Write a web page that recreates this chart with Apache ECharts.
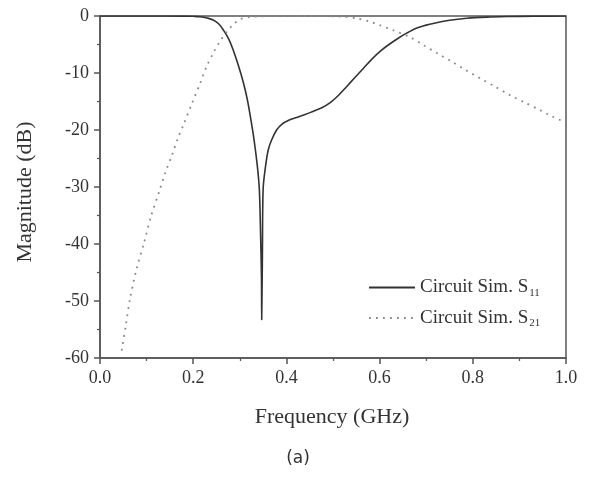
<!DOCTYPE html>
<html>
<head>
<meta charset="utf-8">
<script src="https://cdn.jsdelivr.net/npm/echarts@6/dist/echarts.min.js"></script>
<style>
html,body{margin:0;padding:0;background:#fff;}
#chart{width:595px;height:477px;}
</style>
</head>
<body>
<div id="chart"></div>
<script>
// Frequency (GHz), Magnitude (dB)
var s11Freq = [0,0.1,0.18,0.2,0.215,0.23,0.243,0.255,0.265,0.276,0.286,0.297,0.308,0.316,0.322,0.328,0.333,0.338,0.342,0.3445,0.3465,0.347,0.3485,0.350,0.355,0.361,0.368,0.379,0.39,0.405,0.422,0.44,0.458,0.476,0.494,0.512,0.529,0.547,0.565,0.583,0.601,0.62,0.64,0.658,0.68,0.7,0.715,0.75,0.787,0.83,0.873,0.93,1.0];
var s11Mag  = [0,0,-0.02,-0.05,-0.12,-0.35,-0.7,-1.4,-2.5,-4.0,-6,-8.7,-11.8,-14.6,-17.3,-20.3,-23.2,-26.6,-30.5,-38,-46,-53.3,-42,-30.5,-26.5,-23.5,-21.8,-20,-19,-18.3,-17.8,-17.3,-16.7,-16.1,-15.2,-13.9,-12.4,-10.8,-9.2,-7.6,-6.2,-5,-3.9,-3.0,-2.1,-1.6,-1.3,-0.75,-0.4,-0.2,-0.1,-0.03,0];
var s21Freq = [0.0465,0.055,0.064,0.078,0.0944,0.11,0.127,0.14,0.155,0.167,0.179,0.197,0.215,0.228,0.243,0.257,0.272,0.286,0.300,0.32,0.35,0.45,0.515,0.55,0.579,0.6,0.629,0.665,0.694,0.725,0.755,0.785,0.815,0.848,0.88,0.912,0.944,0.97,1.0];
var s21Mag  = [-58.7,-54.5,-49.8,-44.5,-39.8,-35,-30.8,-27.5,-24.3,-21.5,-19.1,-15.4,-11.8,-9,-6.5,-4.5,-2.75,-1.5,-0.6,-0.2,-0.05,0,-0.1,-0.4,-1.0,-1.6,-2.5,-3.7,-5.1,-6.6,-8.0,-9.5,-10.9,-12.4,-13.9,-15.2,-16.5,-17.6,-18.7];
var xTicks = [0.0,0.2,0.4,0.6,0.8,1.0];
var yTicks = [0,-10,-20,-30,-40,-50,-60];
var seriesNames = ['Circuit Sim. S11','Circuit Sim. S21'];
var xTitle = 'Frequency (GHz)';
var yTitle = 'Magnitude (dB)';
var caption = '(a)';

function zip(a,b){var r=[];for(var i=0;i<a.length;i++)r.push([a[i],b[i]]);return r;}

var serif = 'Liberation Serif';
var chart = echarts.init(document.getElementById('chart'), null, {renderer:'canvas'});
chart.setOption({
  animation:false,
  backgroundColor:'#fff',
  graphic:[
    {type:'text',x:332,y:417,style:{text:xTitle,fontFamily:serif,fontSize:22,fill:'#333',align:'center',verticalAlign:'middle'}},
    {type:'text',x:25,y:192,rotation:Math.PI/2,style:{text:yTitle,fontFamily:serif,fontSize:22,fill:'#333',align:'center',verticalAlign:'middle'}},
    {type:'text',x:298,y:459,style:{text:caption,fontFamily:'DejaVu Sans',fontSize:17,fill:'#333',align:'center',verticalAlign:'middle'}}
  ],
  grid:{left:100,right:29,top:16,bottom:119,show:true,borderColor:'#555',borderWidth:1.5,backgroundColor:'transparent'},
  legend:{
    orient:'vertical',left:368,top:278,padding:0,itemWidth:46,itemHeight:14,itemGap:10,
    data:seriesNames,
    itemStyle:{opacity:0},
    formatter:function(n){var sub=n.slice(-2);return '{a|'+n.slice(0,-2)+'}{s|'+sub+'}';},
    textStyle:{fontFamily:serif,fontSize:19,color:'#333',
      rich:{a:{fontFamily:serif,fontSize:19,color:'#333'},s:{fontFamily:serif,fontSize:11,color:'#333',padding:[11,0,0,1]}}}
  },
  xAxis:{
    type:'value',min:0,max:1,interval:0.2,
    axisLine:{onZero:false,lineStyle:{color:'#555',width:1.5}},
    axisTick:{show:true,length:6,lineStyle:{color:'#555',width:1.5}},
    minorTick:{show:true,splitNumber:2,length:3,lineStyle:{color:'#555',width:1.2}},
    splitLine:{show:false},
    axisLabel:{margin:11,fontFamily:serif,fontSize:18,color:'#333',
      formatter:function(v){return v.toFixed(1);}}
  },
  yAxis:{
    type:'value',min:-60,max:0,interval:10,
    axisLine:{show:true,onZero:false,lineStyle:{color:'#555',width:1.5}},
    axisTick:{show:true,length:6,lineStyle:{color:'#555',width:1.5}},
    minorTick:{show:true,splitNumber:2,length:3,lineStyle:{color:'#555',width:1.2}},
    splitLine:{show:false},
    axisLabel:{margin:11,fontFamily:serif,fontSize:18,color:'#333'}
  },
  series:[
    {name:seriesNames[0],type:'line',data:zip(s11Freq,s11Mag),showSymbol:false,symbol:'none',smooth:0.35,
     lineStyle:{color:'#333',width:1.6},itemStyle:{color:'#333'}},
    {name:seriesNames[1],type:'line',data:zip(s21Freq,s21Mag),showSymbol:false,symbol:'none',smooth:0.3,
     lineStyle:{color:'#888',width:1.8,type:[1.8,5.2]},itemStyle:{color:'#888'}}
  ]
});
</script>
</body>
</html>
